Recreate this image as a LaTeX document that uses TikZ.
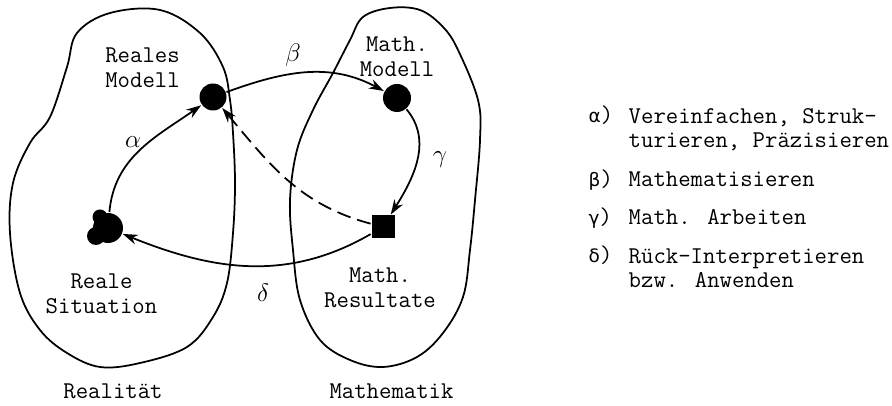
\documentclass[tikz,border=0pt]{standalone}
\usepackage{fontspec}
\newfontfamily\greekfont{DejaVu Sans}
\usetikzlibrary{arrows.meta}

\begin{document}
\begin{tikzpicture}[>={Stealth[length=3mm,width=2mm]}, line width=1pt,
    every node/.style={font=\ttfamily\fontsize{13.7}{14.2}\selectfont},
    station/.style={fill, inner sep=0pt},
    greek/.style={font=\Large},
    legend/.style={anchor=base west, align=left}]
  \useasboundingbox (0,0) rectangle (17.84,8.12);

  % Regions
  \draw plot[smooth cycle, tension=0.6] coordinates {
    (1.54,7.46) (2.2,7.86) (3.2,7.92) (4.0,7.46) (4.46,6.78) (4.6,6.12)
    (4.66,5.46) (4.7,4.46) (4.66,3.46) (4.54,2.46) (4.26,1.78) (3.74,1.18)
    (2.8,0.86) (2.0,0.78) (1.34,1.06) (0.8,1.52) (0.4,2.26) (0.2,3.46)
    (0.26,4.46) (0.6,5.26) (1.0,5.78) (1.34,6.78)};
  \draw plot[smooth cycle, tension=0.6] coordinates {
    (7.26,7.78) (7.8,7.96) (8.4,7.92) (8.86,7.58) (9.16,7.12) (9.56,6.12)
    (9.6,5.32) (9.5,4.12) (9.4,3.12) (9.26,2.18) (8.86,1.46) (8.34,0.98)
    (7.66,0.78) (7.0,0.92) (6.4,1.32) (6.0,2.12) (5.86,3.12) (5.8,4.12)
    (5.94,5.12) (6.26,5.92) (6.66,6.66) (7.0,7.32)};
  \node[anchor=base] (real) at (2.26,0.14) {Realität};
  \node[anchor=base] (math) at (7.83,0.14) {Mathematik};

  % Stations
  \node[station, circle, minimum size=0.54cm] (rm) at (4.26,6.18) {};
  \node[station, circle, minimum size=0.56cm] (mm) at (7.94,6.16) {};
  \node[station, minimum size=0.46cm] (mr) at (7.66,3.58) {};
  \node[station, circle, minimum size=0.6cm] (rs) at (2.16,3.56) {};
  \fill (1.92,3.40) circle (0.18);
  \fill (2.00,3.78) circle (0.15);
  \node[align=center] (rmtext) at (2.85,6.77) {Reales\\Modell};
  \node[align=center] (mmtext) at (7.94,6.99) {Math.\\Modell};
  \node[align=center] (rstext) at (2.03,2.25) {Reale\\Situation};
  \node[align=center] (mrtext) at (7.60,2.37) {Math.\\Resultate};

  % Arrows
  \draw[->] (rs) to[out=85,in=215] (rm);
  \draw[->] (rm) to[out=20,in=152] (mm);
  \draw[->] (mm) to[out=-50,in=58] (mr);
  \draw[->] (mr) to[out=210,in=-22] (rs);
  \draw[->, dash pattern=on 8pt off 4pt] (mr) to[out=165,in=-50] (rm);
  \node[greek] (alpha) at (2.66,5.28) {$\alpha$};
  \node[greek] (beta) at (5.86,7.02) {$\beta$};
  \node[greek] (gamma) at (8.80,4.92) {$\gamma$};
  \node[greek] (delta) at (5.26,2.26) {$\delta$};

  % Legend
  \node[legend] (la) at (11.64,5.66) {{\greekfont\fontsize{10.5}{12}\selectfont α})};
  \node[legend] (ta) at (12.44,5.16) {Vereinfachen, Struk-\\turieren, Präzisieren};
  \node[legend] (lb) at (11.64,4.38) {{\greekfont\fontsize{10.5}{12}\selectfont β})};
  \node[legend] (tb) at (12.44,4.38) {Mathematisieren};
  \node[legend] (lc) at (11.64,3.62) {{\greekfont\fontsize{10.5}{12}\selectfont γ})};
  \node[legend] (tc) at (12.44,3.62) {Math. Arbeiten};
  \node[legend] (ld) at (11.64,2.86) {{\greekfont\fontsize{10.5}{12}\selectfont δ})};
  \node[legend] (td) at (12.44,2.36) {Rück-Interpretieren\\bzw. Anwenden};
\end{tikzpicture}
\end{document}
